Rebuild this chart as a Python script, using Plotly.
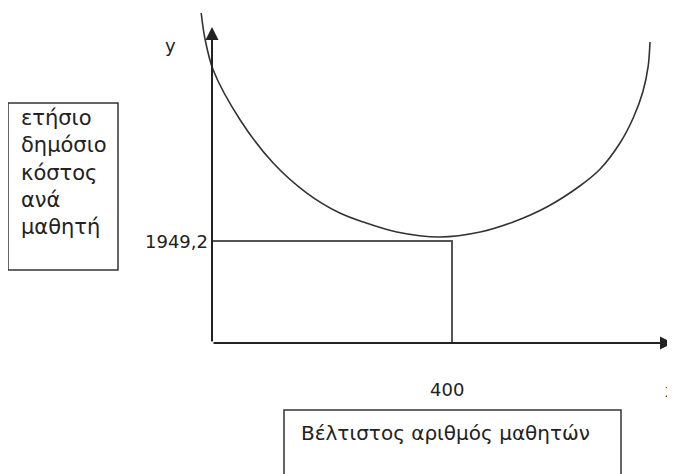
import plotly.graph_objects as go

# Cost curve (schematic)
curve_x = [-18, -12, 2, 47, 102, 158, 213, 252, 308, 380, 447, 502, 558, 613, 647, 680, 702, 718, 727, 730]
curve_y = [6306, 5830, 5217, 4262, 3440, 2866, 2484, 2312, 2121, 2026, 2121, 2312, 2599, 3000, 3325, 3822, 4300, 4797, 5293, 5752]

opt_x = 400
opt_y = 1949.2
opt_x_label = "400"
opt_y_label = "1949,2"
y_axis_label = "y"
x_axis_label = "x"
y_box_lines = ["ετήσιο", "δημόσιο", "κόστος", "ανά", "μαθητή"]
x_box_text = "Βέλτιστος αριθμός μαθητών"

W, H = 675, 474
OFF = 8  # page body margin
XSC = 0.6          # px per x unit
YSC = 102 / 1949.2  # px per y unit
X0PX, Y0PX = 212, 343  # page pixel of data origin


def dx(px):
    return (px - X0PX) / XSC


def dy(py):
    return (Y0PX - py) / YSC


def paper_x(px):
    return (px - OFF) / W


def paper_y(py):
    return 1 - (py - OFF) / H


XR = [dx(OFF), dx(OFF + W)]
YR = [dy(OFF + H), dy(OFF)]
FONT = "DejaVu Sans"
TXT = "#222222"
LINE = "#333333"

fig = go.Figure()

fig.add_trace(go.Scatter(x=curve_x, y=curve_y, mode="lines",
                         line=dict(color=LINE, width=1.6, shape="spline", smoothing=0.9),
                         hoverinfo="skip", showlegend=False))

fig.add_trace(go.Scatter(x=[0, opt_x, opt_x], y=[opt_y, opt_y, 0], mode="lines",
                         line=dict(color="#555555", width=2),
                         hoverinfo="skip", showlegend=False))

# axes with arrowheads
fig.add_annotation(x=0, y=dy(27), ax=0, ay=0, xref="x", yref="y", axref="x", ayref="y",
                   showarrow=True, arrowhead=2, arrowsize=1.3, arrowwidth=2, arrowcolor="#222222", text="")
fig.add_annotation(x=dx(673), y=0, ax=0, ay=0, xref="x", yref="y", axref="x", ayref="y",
                   showarrow=True, arrowhead=2, arrowsize=1.3, arrowwidth=2, arrowcolor="#222222", text="")

# labels
fig.add_annotation(x=dx(210), y=opt_y, text=opt_y_label, showarrow=False, xanchor="right", yanchor="middle",
                   font=dict(family=FONT, size=18, color=TXT))
fig.add_annotation(x=dx(447), y=dy(389), text=opt_x_label, showarrow=False, xanchor="center", yanchor="middle",
                   font=dict(family=FONT, size=18, color=TXT))
fig.add_annotation(x=dx(170), y=dy(45), text=y_axis_label, showarrow=False, xanchor="center", yanchor="middle",
                   font=dict(family=FONT, size=18, color=TXT))
fig.add_annotation(x=dx(663), y=dy(390), text=x_axis_label, showarrow=False, xanchor="left", yanchor="middle",
                   font=dict(family=FONT, size=18, color=TXT))

# left box
fig.add_shape(type="rect", xref="paper", yref="paper",
              x0=paper_x(8), x1=paper_x(118), y0=paper_y(270), y1=paper_y(103),
              line=dict(color="#333333", width=1.5))
fig.add_annotation(xref="paper", yref="paper", x=paper_x(19), y=paper_y(104),
                   text="<br>".join(y_box_lines), showarrow=False, xanchor="left", yanchor="top", align="left",
                   font=dict(family=FONT, size=21, color=TXT))

# bottom box
fig.add_shape(type="rect", xref="paper", yref="paper",
              x0=paper_x(284), x1=paper_x(621), y0=-0.05, y1=paper_y(410),
              line=dict(color="#333333", width=1.5))
fig.add_annotation(xref="paper", yref="paper", x=paper_x(299), y=paper_y(433),
                   text=x_box_text, showarrow=False, xanchor="left", yanchor="middle",
                   font=dict(family=FONT, size=20, color=TXT))

fig.update_xaxes(range=XR, visible=False, fixedrange=True)
fig.update_yaxes(range=YR, visible=False, fixedrange=True)
fig.update_layout(width=W, height=H, autosize=False,
                  margin=dict(l=0, r=0, t=0, b=0, pad=0),
                  plot_bgcolor="white", paper_bgcolor="white",
                  showlegend=False)

fig.write_html("out.html")
